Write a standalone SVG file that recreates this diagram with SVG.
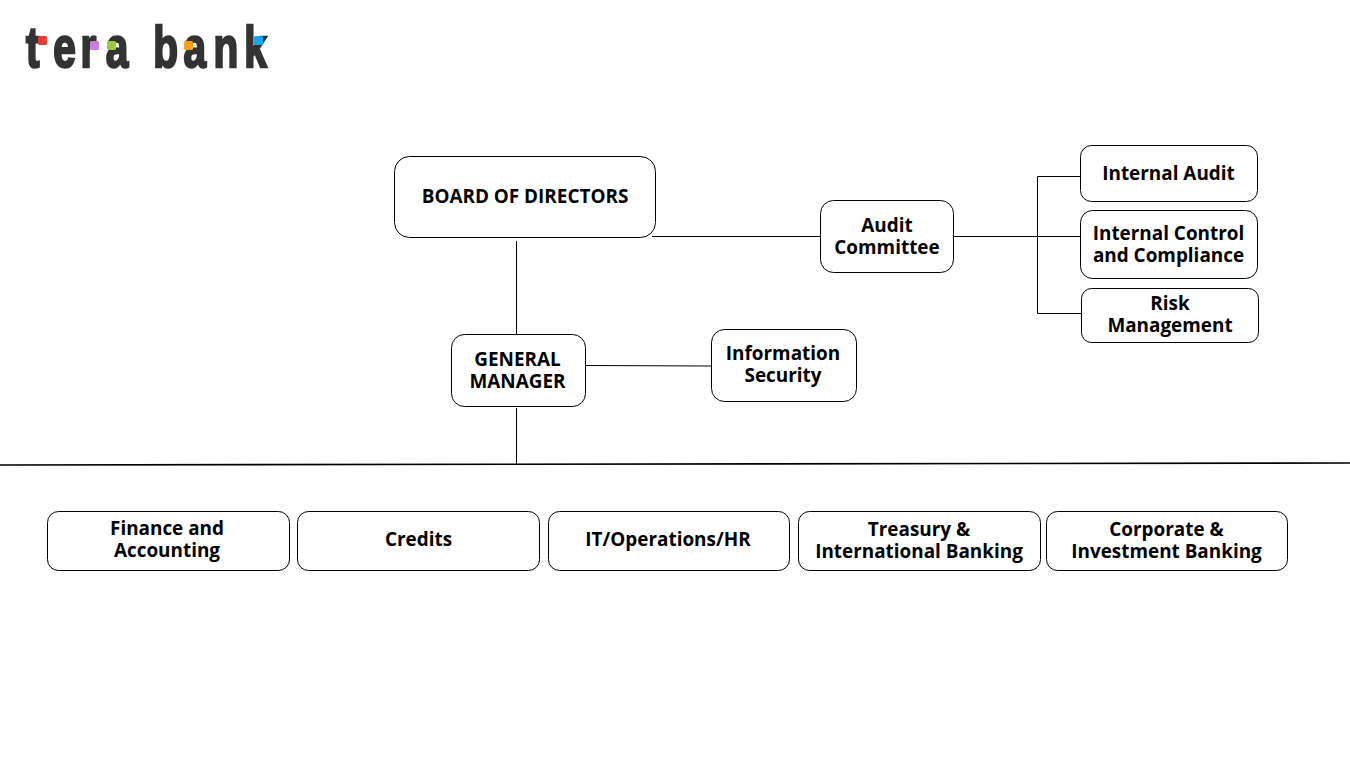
<svg xmlns="http://www.w3.org/2000/svg" width="1350" height="759" viewBox="0 0 1350 759">
<style>
.n{fill:#fff;stroke:#000;stroke-width:1}
.t{font-family:"Open Sans","DejaVu Sans",sans-serif;font-weight:700;font-size:18.9px;fill:#000;text-anchor:middle}
.c{fill:none;stroke:#000;stroke-width:1}
.logo{font-family:"Liberation Sans",sans-serif;font-weight:700;font-size:58px;fill:#333;stroke:#333;stroke-width:2.500}
</style>
<rect width="1350" height="759" fill="#fff"/>
<g id="logo">
<text class="logo" transform="translate(0 67) scale(.7 1)" x="37 76 115 151 200 219 262 305 349" y="0">tera bank</text>
<rect x="38" y="36" width="9" height="9" rx="1.500" fill="#ee3b33"/>
<rect x="90" y="41" width="9" height="9" rx="1.500" fill="#c77ee0"/>
<rect x="107" y="41" width="9" height="9" rx="1.500" fill="#9ccb3b"/>
<rect x="184" y="41" width="9" height="9" rx="1.500" fill="#f7a11a"/>
<rect x="254" y="36" width="9" height="9" rx="1.500" fill="#10a8ee"/>
</g>
<g id="connectors">
<path class="c" d="M652 236.500H820"/>
<path class="c" d="M954 236.500H1080"/>
<path class="c" d="M1080 176.500H1037.500V313.500H1081"/>
<path class="c" d="M516.500 241V334"/>
<path class="c" d="M586 365.500L711 366"/>
<path class="c" d="M516.500 408V464"/>
<path fill="none" stroke="#000" stroke-width="1.600" d="M0 465L1350 463"/>
</g>
<g id="board"><rect class="n" x="394.500" y="156.500" width="261" height="81" rx="15"/><text class="t" x="525" y="202.500">BOARD OF DIRECTORS</text></g>
<g id="audit-committee"><rect class="n" x="820.500" y="200.500" width="133" height="72" rx="13"/><text class="t" x="887" y="231.500">Audit</text><text class="t" x="887" y="253.500">Committee</text></g>
<g id="internal-audit"><rect class="n" x="1080.500" y="145.500" width="177" height="56" rx="11"/><text class="t" x="1168.500" y="179.500">Internal Audit</text></g>
<g id="internal-control"><rect class="n" x="1080.500" y="210.500" width="177" height="68" rx="12"/><text class="t" x="1168.500" y="239.500">Internal Control</text><text class="t" x="1168.500" y="261.500">and Compliance</text></g>
<g id="risk"><rect class="n" x="1081.500" y="288.500" width="177" height="54" rx="10"/><text class="t" x="1170" y="309.500">Risk</text><text class="t" x="1170" y="331.500">Management</text></g>
<g id="general-manager"><rect class="n" x="451.500" y="334.500" width="134" height="72" rx="13"/><text class="t" x="517.500" y="365.500">GENERAL</text><text class="t" x="517.500" y="387.500">MANAGER</text></g>
<g id="information-security"><rect class="n" x="711.500" y="329.500" width="145" height="72" rx="13"/><text class="t" x="783" y="359.500">Information</text><text class="t" x="783" y="381.500">Security</text></g>
<g id="finance"><rect class="n" x="47.500" y="511.500" width="242" height="59" rx="11"/><text class="t" x="167" y="534.500">Finance and</text><text class="t" x="167" y="556.500">Accounting</text></g>
<g id="credits"><rect class="n" x="297.500" y="511.500" width="242" height="59" rx="11"/><text class="t" x="418.500" y="545.500">Credits</text></g>
<g id="it-ops"><rect class="n" x="548.500" y="511.500" width="241" height="59" rx="11"/><text class="t" x="668" y="545.500">IT/Operations/HR</text></g>
<g id="treasury"><rect class="n" x="798.500" y="511.500" width="242" height="59" rx="11"/><text class="t" x="919" y="535.500">Treasury &amp;</text><text class="t" x="919" y="557.500">International Banking</text></g>
<g id="corporate"><rect class="n" x="1046.500" y="511.500" width="241" height="59" rx="11"/><text class="t" x="1166.500" y="535.500">Corporate &amp;</text><text class="t" x="1166.500" y="557.500">Investment Banking</text></g>
</svg>
